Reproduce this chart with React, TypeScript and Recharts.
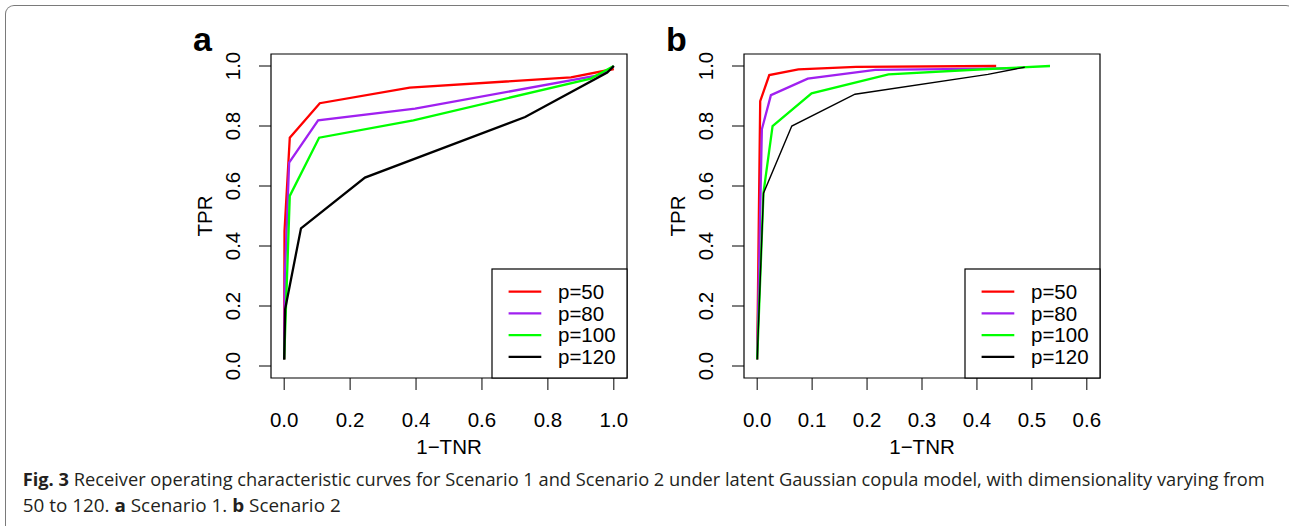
import React from "react";
import { LineChart, Line, XAxis, YAxis, ReferenceArea } from "recharts";

const seriesNames = ["p=50", "p=80", "p=100", "p=120"];
const seriesColors = ["#FF0000", "#A020F0", "#00FF00", "#000000"];

// Scenario 1 (panel a): 1-TNR / TPR pairs per dimensionality
const a50Fpr = [0, 0.001, 0.017, 0.108, 0.381, 0.87, 1.0];
const a50Tpr = [0.022, 0.45, 0.761, 0.876, 0.928, 0.962, 0.99];
const a80Fpr = [0, 0.002, 0.015, 0.103, 0.397, 0.96, 1.0];
const a80Tpr = [0.022, 0.3, 0.678, 0.819, 0.858, 0.97, 1.0];
const a100Fpr = [0, 0.017, 0.106, 0.392, 0.93, 1.0];
const a100Tpr = [0.022, 0.567, 0.761, 0.819, 0.958, 1.0];
const a120Fpr = [0, 0.003, 0.051, 0.245, 0.731, 0.98, 1.0];
const a120Tpr = [0.022, 0.19, 0.459, 0.628, 0.83, 0.978, 1.0];

// Scenario 2 (panel b)
const b50Fpr = [0, 0.0055, 0.022, 0.075, 0.18, 0.435];
const b50Tpr = [0.022, 0.883, 0.97, 0.989, 0.997, 1.0];
const b80Fpr = [0, 0.0085, 0.025, 0.092, 0.215, 0.47];
const b80Tpr = [0.022, 0.789, 0.903, 0.958, 0.987, 0.992];
const b100Fpr = [0, 0.0115, 0.028, 0.099, 0.239, 0.42, 0.533];
const b100Tpr = [0.022, 0.578, 0.8, 0.909, 0.972, 0.99, 1.0];
const b120Fpr = [0, 0.0115, 0.063, 0.178, 0.42, 0.487];
const b120Tpr = [0.022, 0.576, 0.8, 0.906, 0.972, 0.996];

const xTicksA = [0, 0.2, 0.4, 0.6, 0.8, 1.0];
const xTicksB = [0, 0.1, 0.2, 0.3, 0.4, 0.5, 0.6];
const yTicks = [0, 0.2, 0.4, 0.6, 0.8, 1.0];

const xDomainA = [-0.04, 1.04];
const xDomainB = [-0.024, 0.624];
const yDomain = [-0.04, 1.04];

const toPoints = (fpr: number[], tpr: number[]) => fpr.map((x, i) => ({ x, y: tpr[i] }));

const seriesA = [
  toPoints(a50Fpr, a50Tpr),
  toPoints(a80Fpr, a80Tpr),
  toPoints(a100Fpr, a100Tpr),
  toPoints(a120Fpr, a120Tpr),
];
const seriesB = [
  toPoints(b50Fpr, b50Tpr),
  toPoints(b80Fpr, b80Tpr),
  toPoints(b100Fpr, b100Tpr),
  toPoints(b120Fpr, b120Tpr),
];

const FONT = "'Liberation Sans', Arial, Helvetica, sans-serif";
const FS = 20.5;

// plot box inside each 460x440 panel
const PL = 91;
const PT = 34;
const PW = 356;
const PH = 324;

const renderXTick = (p: any) => (
  <text x={p.x} y={p.y + 37} textAnchor="middle" fontFamily={FONT} fontSize={FS} fill="#000">
    {Number(p.payload.value).toFixed(1)}
  </text>
);

const renderYTick = (p: any) => {
  const bx = p.x - 19;
  return (
    <text
      x={bx}
      y={p.y}
      transform={`rotate(-90, ${bx}, ${p.y})`}
      textAnchor="middle"
      fontFamily={FONT}
      fontSize={FS}
      fill="#000"
    >
      {Number(p.payload.value).toFixed(1)}
    </text>
  );
};

function RocPanel({ left, letter, series, xTicks, xDomain, blackWidth }: any) {
  const lx = PL + PW - 135;
  const ly = PT + PH - 109;
  return (
    <div style={{ position: "absolute", left, top: 20, width: 460, height: 440 }}>
      <LineChart width={460} height={440} margin={{ top: PT, right: 13, bottom: 0, left: 0 }}>
        <XAxis
          type="number"
          dataKey="x"
          domain={xDomain}
          ticks={xTicks}
          allowDataOverflow
          interval={0}
          axisLine={false}
          tickSize={12}
          tickMargin={0}
          tickLine={{ stroke: "#000", strokeWidth: 1 }}
          tick={renderXTick}
          height={82}
        />
        <YAxis
          type="number"
          dataKey="y"
          domain={yDomain}
          ticks={yTicks}
          allowDataOverflow
          interval={0}
          axisLine={false}
          tickSize={12}
          tickMargin={0}
          tickLine={{ stroke: "#000", strokeWidth: 1 }}
          tick={renderYTick}
          width={91}
        />
        <ReferenceArea
          x1={xDomain[0]}
          x2={xDomain[1]}
          y1={yDomain[0]}
          y2={yDomain[1]}
          fill="none"
          fillOpacity={0}
          stroke="#000"
          strokeWidth={1.2}
          ifOverflow="visible"
        />
        {series.map((pts: any[], i: number) => (
          <Line
            key={seriesNames[i]}
            data={pts}
            dataKey="y"
            type="linear"
            stroke={seriesColors[i]}
            strokeWidth={i === 3 ? blackWidth : 2.3}
            dot={false}
            activeDot={false}
            isAnimationActive={false}
          />
        ))}
      </LineChart>
      <svg
        width={460}
        height={440}
        style={{ position: "absolute", left: 0, top: 0, pointerEvents: "none" }}
      >
        <text x={13} y={31} fontFamily={FONT} fontSize={34} fontWeight="bold" fill="#000">
          {letter}
        </text>
        <text
          x={32}
          y={PT + PH / 2}
          transform={`rotate(-90, 32, ${PT + PH / 2})`}
          textAnchor="middle"
          fontFamily={FONT}
          fontSize={FS}
          fill="#000"
        >
          TPR
        </text>
        <text x={PL + PW / 2} y={434} textAnchor="middle" fontFamily={FONT} fontSize={FS} fill="#000">
          1−TNR
        </text>
        <rect x={lx} y={ly} width={135} height={109} fill="#fff" stroke="#000" strokeWidth={1.2} />
        {seriesNames.map((name, i) => {
          const yy = ly + 22.7 + i * 21.7;
          return (
            <g key={name}>
              <line x1={lx + 16.6} x2={lx + 49.3} y1={yy} y2={yy} stroke={seriesColors[i]} strokeWidth={2.3} />
              <text x={lx + 66} y={yy + 7.3} fontFamily={FONT} fontSize={FS} fill="#000">
                {name}
              </text>
            </g>
          );
        })}
      </svg>
    </div>
  );
}

export default function App() {
  return (
    <div
      style={{
        position: "absolute",
        left: 0,
        top: 0,
        width: 1289,
        height: 526,
        background: "#fff",
        overflow: "hidden",
      }}
    >
      <div
        style={{
          position: "absolute",
          left: 5,
          top: 5,
          width: 1290,
          height: 600,
          borderTop: "1.5px solid #7a7a7a",
          borderLeft: "1.5px solid #7a7a7a",
          borderRight: "1.5px solid #7a7a7a",
          borderRadius: 9,
          boxSizing: "border-box",
        }}
      />
      <RocPanel left={180} letter="a" series={seriesA} xTicks={xTicksA} xDomain={xDomainA} blackWidth={2.3} />
      <RocPanel left={653} letter="b" series={seriesB} xTicks={xTicksB} xDomain={xDomainB} blackWidth={1.4} />
      <svg width={1289} height={70} style={{ position: "absolute", left: 0, top: 456 }}>
        <text
          x={22.7}
          y={30}
          textLength={1242}
          lengthAdjust="spacingAndGlyphs"
          fontFamily="'Open Sans', sans-serif"
          fontSize={17.6}
          fill="#231f20"
        >
          <tspan fontWeight="bold">Fig. 3</tspan> Receiver operating characteristic curves for Scenario 1 and Scenario 2
          under latent Gaussian copula model, with dimensionality varying from
        </text>
        <text
          x={22.7}
          y={56}
          textLength={318}
          lengthAdjust="spacingAndGlyphs"
          fontFamily="'Open Sans', sans-serif"
          fontSize={17.6}
          fill="#231f20"
        >
          50 to 120. <tspan fontWeight="bold">a</tspan> Scenario 1. <tspan fontWeight="bold">b</tspan> Scenario 2
        </text>
      </svg>
    </div>
  );
}
